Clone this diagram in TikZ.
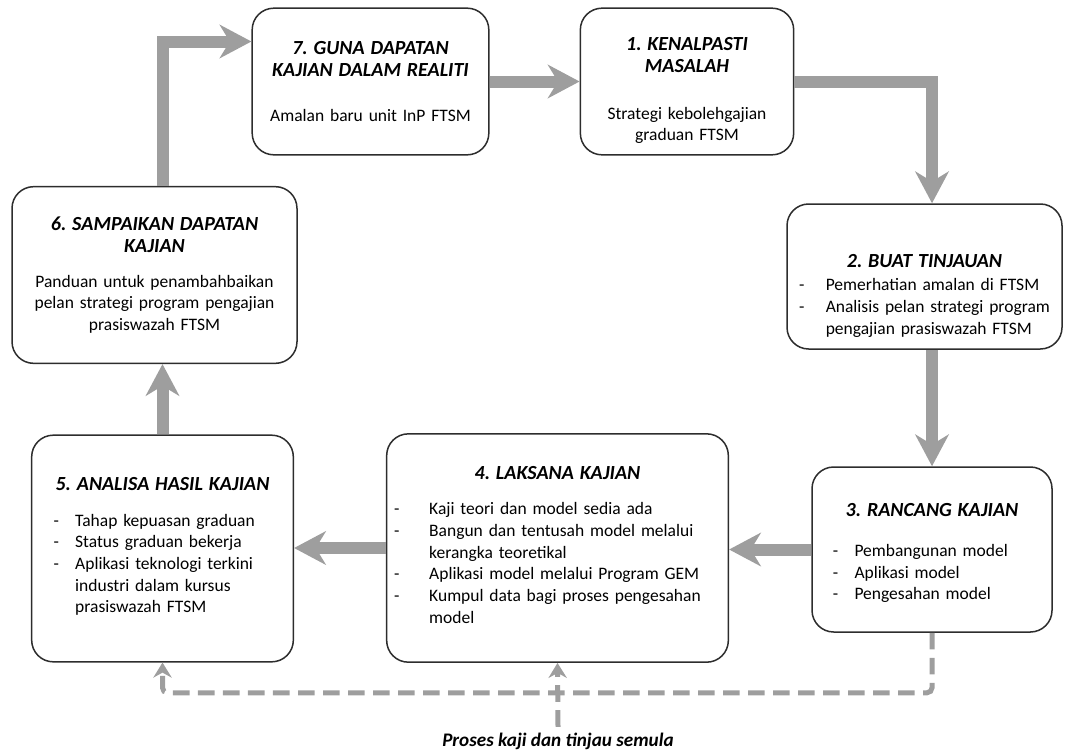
\documentclass[tikz,border=0pt]{standalone}
\usepackage{fontspec}
\setmainfont{Carlito}
\usetikzlibrary{arrows.meta}
\frenchspacing

\definecolor{flowgray}{RGB}{158,158,158}
\definecolor{boxline}{RGB}{45,45,45}

\tikzset{
  stage/.style={draw=boxline, line width=0.9pt, rounded corners=13pt, fill=white,
    align=center, inner sep=3pt, font=\fontsize{10.5}{13}\selectfont},
  flow/.style={draw=flowgray, line width=7.2pt,
    -{Stealth[length=19pt, width=20pt, inset=6pt]}},
  feedback/.style={draw=flowgray, line width=3pt, dash pattern=on 10pt off 5pt,
    -{Stealth[length=9pt, width=11pt, inset=3pt]}},
}
\newcommand{\stagetitle}[1]{{\fontsize{12}{13.2}\selectfont\bfseries\itshape #1}}
\newcommand{\dashlist}[2][16pt]{\begin{tabular}{@{}p{#1}@{}l@{}}#2\end{tabular}}

\begin{document}
\begin{tikzpicture}[x=0.6pt, y=-0.6pt]
  \useasboundingbox (0,0) rectangle (1067,752);

  % stages, 1 to 7
  \node[stage, minimum width=128pt, minimum height=88pt, text width=122pt] (kenal) at (687,81.5)
    {\rule{0pt}{19pt}\stagetitle{1. KENALPASTI\\MASALAH}\\[15pt]
     Strategi kebolehgajian\\graduan FTSM};
  \node[stage, minimum width=165pt, minimum height=87pt, text width=159pt] (tinjau) at (924.5,276.5)
    {\rule{0pt}{33pt}\stagetitle{2. BUAT TINJAUAN}\\[4pt]
     \dashlist{- & Pemerhatian amalan di FTSM\\
               - & Analisis pelan strategi program\\
                 & pengajian prasiswazah FTSM}};
  \node[stage, minimum width=144pt, minimum height=99pt, text width=138pt] (rancang) at (932,549.5)
    {\rule{0pt}{14pt}\stagetitle{3. RANCANG KAJIAN}\\[14pt]
     \hspace*{-14pt}\dashlist[13pt]{- & Pembangunan model\\
               - & Aplikasi model\\
               - & Pengesahan model}};
  \node[stage, minimum width=205pt, minimum height=137pt, text width=199pt] (laksana) at (557.5,548)
    {\stagetitle{4. LAKSANA KAJIAN}\\[11pt]
     \hspace*{-12pt}\dashlist[21pt]{- & Kaji teori dan model sedia ada\\
               - & Bangun dan tentusah model melalui\\
                 & kerangka teoretikal\\
               - & Aplikasi model melalui Program GEM\\
               - & Kumpul data bagi proses pengesahan\\
                 & model}};
  \node[stage, minimum width=157pt, minimum height=136pt, text width=151pt] (analisa) at (162.5,548.5)
    {\stagetitle{5. ANALISA HASIL KAJIAN}\\[11pt]
     \hspace*{-10pt}\dashlist[13pt]{- & Tahap kepuasan graduan\\
               - & Status graduan bekerja\\
               - & Aplikasi teknologi terkini\\
                 & industri dalam kursus\\
                 & prasiswazah FTSM}};
  \node[stage, minimum width=171pt, minimum height=106pt, text width=165pt] (sampaikan) at (154.5,275)
    {\stagetitle{6. SAMPAIKAN DAPATAN\\KAJIAN}\\[8pt]
     Panduan untuk penambahbaikan\\pelan strategi program pengajian\\prasiswazah FTSM};
  \node[stage, minimum width=142pt, minimum height=88pt, text width=136pt] (guna) at (370.5,81.5)
    {\stagetitle{7. GUNA DAPATAN\\KAJIAN DALAM REALITI}\\[14pt]
     Amalan baru unit InP FTSM};

  \node[font=\fontsize{11.5}{13}\selectfont\bfseries\itshape] (semula) at (558,741)
    {Proses kaji dan tinjau semula};

  % main cycle
  \draw[flow] (guna.east) -- (kenal.west);
  \draw[flow] (kenal.east) -| (tinjau.north -| rancang.north);
  \draw[flow] (tinjau.south -| rancang.north) -- (rancang.north);
  \draw[flow] (rancang.west) -- (rancang.west -| laksana.east);
  \draw[flow] (laksana.west) -- (laksana.west -| analisa.east);
  \draw[flow] (analisa.north) -- (analisa.north |- sampaikan.south);
  \draw[flow] (sampaikan.north -| analisa.north) |- ([yshift=24pt]guna.west);

  % review loop
  \draw[feedback, rounded corners=3pt] (rancang.south) -- ++(0,60) -| (analisa.south);
  \draw[feedback] (semula.north) -- (laksana.south);
\end{tikzpicture}
\end{document}
